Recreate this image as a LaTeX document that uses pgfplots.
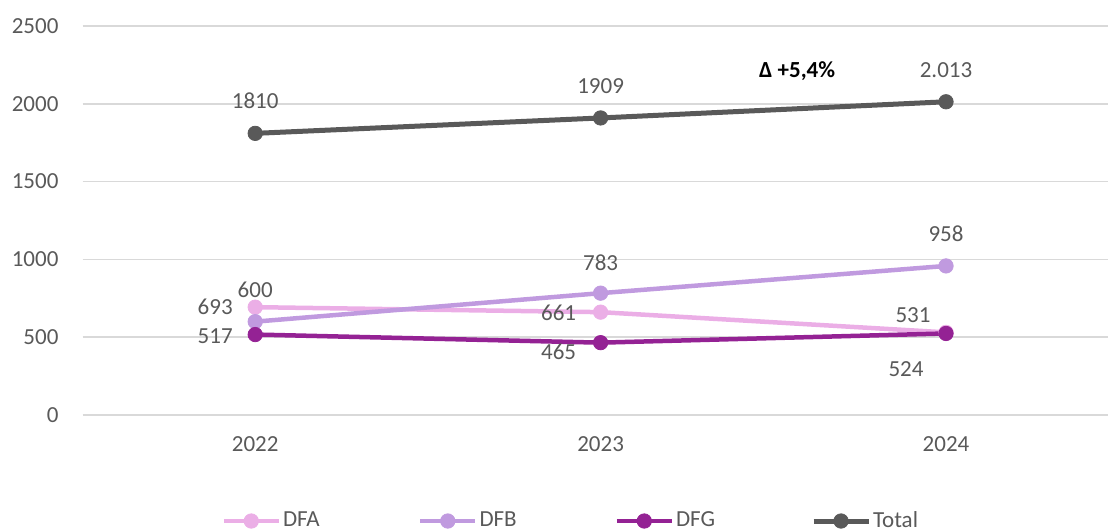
\documentclass[border=0pt]{standalone}
\usepackage{pgfplots}
\pgfplotsset{compat=1.18}
\usepackage{pgfplotstable}
\usepackage{fontspec}
\setmainfont{Carlito}
\definecolor{cDFA}{HTML}{EBAEE6}
\definecolor{cDFB}{HTML}{C09ADF}
\definecolor{cDFG}{HTML}{942294}
\definecolor{cTot}{HTML}{595959}
\definecolor{gridc}{HTML}{D9D9D9}
\definecolor{txt}{HTML}{595959}

\pgfplotstableread{
x y lab dx dy
0 693 693 -20 0
1 661 661 -21 -0.5
2 531 531 -16.5 8.5
}\dfa
\pgfplotstableread{
x y lab dx dy
0 600 600 0 16
1 783 783 0 15
2 958 958 0 16
}\dfb
\pgfplotstableread{
x y lab dx dy
0 517 517 -20 -1
1 465 465 -21 -4.5
2 524 524 -20 -18
}\dfg
\pgfplotstableread{
x y lab dx dy
0 1810 1810 0 16.5
1 1909 1909 0 16
2 2013 2.013 0 16
}\tot

\newcommand{\f}{\fontsize{11.5}{14}\selectfont}

\begin{document}
\begin{tikzpicture}
\path[use as bounding box] (0,0) rectangle (554pt,265.5pt);
\begin{axis}[
  at={(41.25pt,58pt)}, anchor=south west,
  scale only axis, width=512.75pt, height=194.5pt,
  xmin=-0.5, xmax=2.469, ymin=0, ymax=2500,
  xtick={0,1,2}, xticklabels={2022,2023,2024},
  ytick={0,500,1000,1500,2000,2500},
  ymajorgrids, grid style={gridc, line width=0.75pt},
  axis line style={draw=none}, tick style={draw=none},
  /pgf/number format/assume math mode=true,
  /pgf/number format/set thousands separator={},
  tick label style={font=\f, text=txt},
  yticklabel style={xshift=-8.5pt},
  xticklabel style={yshift=-7.5pt},
  clip=false,
  legend columns=4,
  legend image code/.code={\draw[mark repeat=2, mark phase=2, #1] plot coordinates {(0pt,0pt) (13.75pt,0pt) (27.5pt,0pt)};},
  legend style={at={(0.1352,-0.2725)}, anchor=west, draw=none, fill=none, inner sep=0pt, font=\f, text=txt,
    nodes={text width=55pt, align=left, inner xsep=1pt},
    /tikz/every even column/.append style={column sep=11.5pt}},
  lab/.style={
    point meta=explicit symbolic,
    nodes near coords={\pgfplotspointmeta},
    visualization depends on={\thisrow{dx} \as \dx},
    visualization depends on={\thisrow{dy} \as \dy},
    every node near coord/.append style={anchor=center, xshift=\dx pt, yshift=\dy pt, font=\f, text=txt},
  },
  every axis plot/.append style={mark=*, mark size=3.6pt, mark options={solid, line width=0.4pt}},
]
\addplot[cDFA, line width=2.25pt, lab] table[x=x, y=y, meta=lab] {\dfa};
\addlegendentry{DFA}
\addplot[cDFB, line width=2.25pt, lab] table[x=x, y=y, meta=lab] {\dfb};
\addlegendentry{DFB}
\addplot[cDFG, line width=2.25pt, lab] table[x=x, y=y, meta=lab] {\dfg};
\addlegendentry{DFG}
\addplot[cTot, line width=2.5pt, lab] table[x=x, y=y, meta=lab] {\tot};
\addlegendentry{Total}
\node[font=\f\bfseries, text=black] at (axis cs:1.569,2211) {Δ +5,4\%};
\end{axis}
\end{tikzpicture}
\end{document}
